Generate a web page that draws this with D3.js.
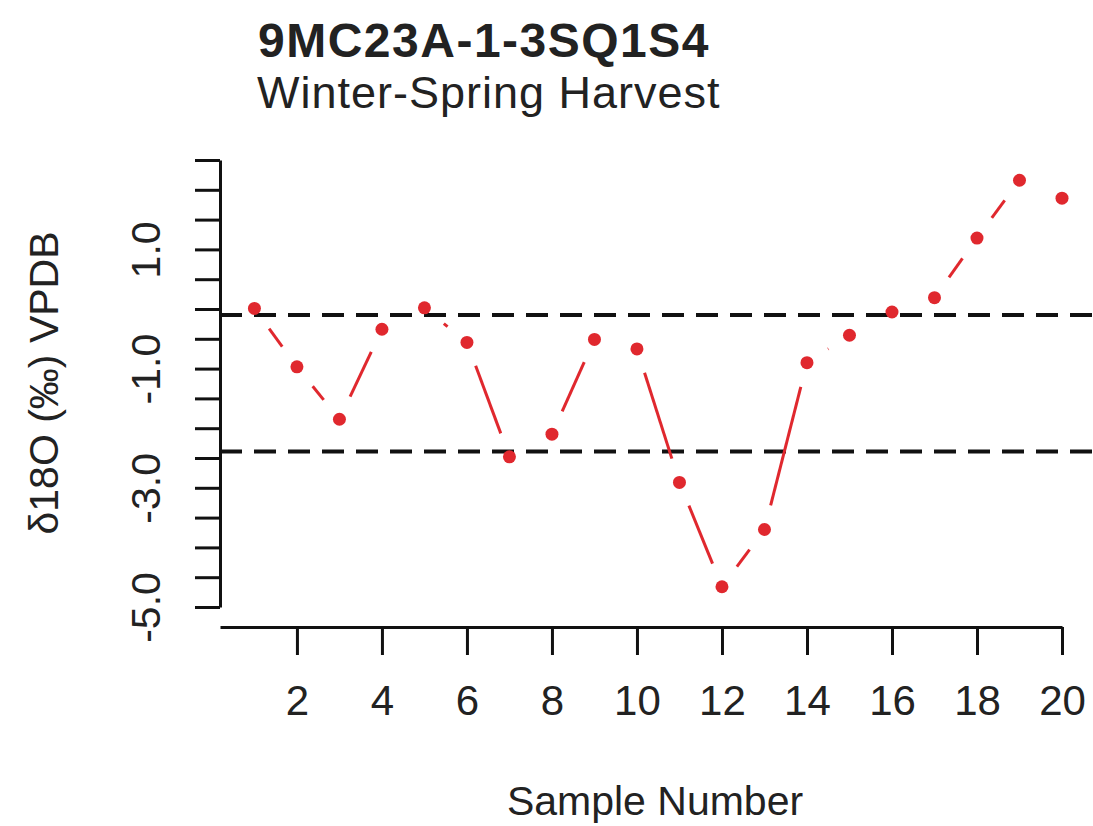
<!DOCTYPE html>
<html>
<head>
<meta charset="utf-8">
<script src="https://cdn.jsdelivr.net/npm/d3@7"></script>
<style>
  html, body { margin: 0; padding: 0; background: #fff; }
  svg text { font-family: "Liberation Sans", Arial, Helvetica, sans-serif; fill: #222; }
</style>
</head>
<body>
<svg id="chart" width="1093" height="826"></svg>
<script>
// ---- data ----
const sampleNumbers = [1,2,3,4,5,6,7,8,9,10,11,12,13,14,15,16,17,18,19,20];
const d18O = [0.01,-0.97,-1.85,-0.34,0.02,-0.56,-2.48,-2.10,-0.51,-0.67,-2.91,-4.66,-3.70,-0.90,-0.44,-0.05,0.19,1.19,2.16,1.86];
const refLines = [-0.10, -2.39];
const xTickValues = [2,4,6,8,10,12,14,16,18,20];
const yTickValues = [-5,-4.5,-4,-3.5,-3,-2.5,-2,-1.5,-1,-0.5,0,0.5,1,1.5,2,2.5];
const yTickLabels = {"-5": "-5.0", "-3": "-3.0", "-1": "-1.0", "1": "1.0"};
const titleText = "9MC23A-1-3SQ1S4";
const subtitleText = "Winter-Spring Harvest";
const xLabel = "Sample Number";
const yLabel = "δ18O (‰) VPDB";

// ---- layout ----
const svg = d3.select("#chart");
const x = d3.scaleLinear().domain([0.19, 20]).range([220, 1062]);
const y = d3.scaleLinear().domain([-5, 2.5]).range([607, 160]);
const red = "#e0282e";

// reference dashed lines
svg.selectAll("line.ref").data(refLines).enter().append("line")
  .attr("class", "ref")
  .attr("x1", 220).attr("x2", 1093)
  .attr("y1", d => y(d)).attr("y2", d => y(d))
  .attr("stroke", "#111").attr("stroke-width", 4)
  .attr("stroke-dasharray", "22,12");

// y axis
const yAxis = d3.axisLeft(y).tickValues(yTickValues).tickSize(25).tickSizeOuter(0)
  .tickFormat(d => yTickLabels[String(d)] || "");
const gy = svg.append("g").attr("transform", "translate(220,0)").call(yAxis);
gy.select(".domain").attr("stroke", "#111").attr("stroke-width", 3);
gy.selectAll(".tick line").attr("stroke", "#111").attr("stroke-width", 3);
gy.selectAll(".tick text")
  .attr("font-size", 41)
  .attr("x", 0).attr("dy", 0)
  .attr("text-anchor", "middle")
  .attr("transform", "translate(-60,0) rotate(-90)")
  .attr("fill", "#222");

// x axis
const xAxis = d3.axisBottom(x).tickValues(xTickValues).tickSize(28).tickSizeOuter(0);
const gx = svg.append("g").attr("transform", "translate(0,627)").call(xAxis);
gx.select(".domain").attr("stroke", "#111").attr("stroke-width", 3);
gx.selectAll(".tick line").attr("stroke", "#111").attr("stroke-width", 3);
gx.selectAll(".tick text")
  .attr("font-size", 42)
  .attr("y", 88).attr("dy", 0)
  .attr("fill", "#222");

// line segments with gaps around points (R type = "b")
const pts = sampleNumbers.map((s, i) => ({px: x(s), py: y(d18O[i])}));
const gap = 25;
const segs = [];
for (let i = 0; i < pts.length - 1; i++) {
  const a = pts[i], b = pts[i + 1];
  const dx = b.px - a.px, dy = b.py - a.py;
  const len = Math.hypot(dx, dy);
  if (len > 2 * gap) {
    const ux = dx / len, uy = dy / len;
    segs.push({x1: a.px + ux * gap, y1: a.py + uy * gap, x2: b.px - ux * gap, y2: b.py - uy * gap});
  }
}
svg.selectAll("line.seg").data(segs).enter().append("line")
  .attr("class", "seg")
  .attr("x1", d => d.x1).attr("y1", d => d.y1)
  .attr("x2", d => d.x2).attr("y2", d => d.y2)
  .attr("stroke", red).attr("stroke-width", 3);

svg.selectAll("circle.pt").data(sampleNumbers).enter().append("circle")
  .attr("class", "pt")
  .attr("cx", d => x(d))
  .attr("cy", (d, i) => y(d18O[i]))
  .attr("r", 6.5)
  .attr("fill", red);

// titles
svg.append("text").attr("x", 258).attr("y", 57)
  .attr("font-size", 48).attr("font-weight", "bold").attr("fill", "#1a1a1a")
  .attr("letter-spacing", 1.5)
  .text(titleText);
svg.append("text").attr("x", 257).attr("y", 108)
  .attr("font-size", 45).attr("letter-spacing", 1)
  .text(subtitleText);

// axis labels
svg.append("text").attr("x", 655).attr("y", 815)
  .attr("text-anchor", "middle").attr("font-size", 41)
  .text(xLabel);
svg.append("text")
  .attr("transform", "translate(58,383) rotate(-90)")
  .attr("text-anchor", "middle").attr("font-size", 41)
  .text(yLabel);
</script>
</body>
</html>
